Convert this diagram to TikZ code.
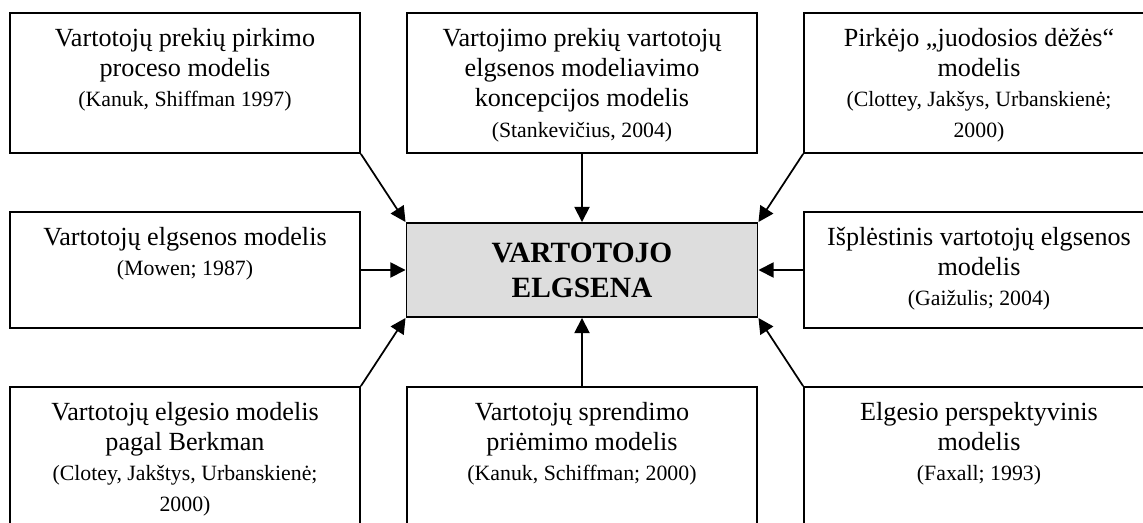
\documentclass[tikz,border=0pt]{standalone}
\usepackage{fontspec}
\setmainfont{Liberation Serif}
\usetikzlibrary{arrows.meta}
\definecolor{cgray}{RGB}{221,221,221}
\newcommand{\srcfont}{\fontsize{10}{11.5}\selectfont}

\tikzset{
  model/.style={draw,line width=0.9pt,minimum width=160.5pt,minimum height=64.2pt,inner sep=0pt},
  modeltxt/.style={anchor=north,align=center,inner sep=0pt,yshift=-7.4pt,font=\fontsize{12}{13.8}\selectfont},
  flow/.style={line width=0.8pt,-{Triangle[length=7pt,width=7pt]}}
}

\begin{document}
\begin{tikzpicture}[x=0.4587pt,y=-0.4587pt]
  \useasboundingbox (0,0) rectangle (1143,523);
  \clip (0,0) rectangle (1143,523);
  % centre
  \node[draw,fill=cgray,line width=0.9pt,minimum width=161pt,minimum height=43.1pt,
        align=center,font=\fontsize{13.5}{16}\selectfont\bfseries] (c) at (582,270) {VARTOTOJO\\ELGSENA};
  % boxes
  \node[model] (tl) at (185,83) {};
  \node[model] (tm) at (582,83) {};
  \node[model] (tr) at (979,83) {};
  \node[model,minimum height=53.2pt] (ml) at (185,270) {};
  \node[model,minimum height=53.2pt] (mr) at (979,270) {};
  \node[model] (bl) at (185,457) {};
  \node[model] (bm) at (582,457) {};
  \node[model] (br) at (979,457) {};
  % texts
  \node[modeltxt] (tl-t) at (tl.north) {Vartotojų prekių pirkimo\\proceso modelis\\{\srcfont (Kanuk, Shiffman 1997)}};
  \node[modeltxt] (tm-t) at (tm.north) {Vartojimo prekių vartotojų\\elgsenos modeliavimo\\koncepcijos modelis\\{\srcfont (Stankevičius, 2004)}};
  \node[modeltxt] (tr-t) at (tr.north) {Pirkėjo „juodosios dėžės“\\modelis\\{\srcfont (Clottey, Jakšys, Urbanskienė;}\\{\srcfont 2000)}};
  \node[modeltxt] (ml-t) at (ml.north) {Vartotojų elgsenos modelis\\{\srcfont (Mowen; 1987)}};
  \node[modeltxt] (mr-t) at (mr.north) {Išplėstinis vartotojų elgsenos\\modelis\\{\srcfont (Gaižulis; 2004)}};
  \node[modeltxt] (bl-t) at (bl.north) {Vartotojų elgesio modelis\\pagal Berkman\\{\srcfont (Clotey, Jakštys, Urbanskienė;}\\{\srcfont 2000)}};
  \node[modeltxt] (bm-t) at (bm.north) {Vartotojų sprendimo\\priėmimo modelis\\{\srcfont (Kanuk, Schiffman; 2000)}};
  \node[modeltxt] (br-t) at (br.north) {Elgesio perspektyvinis\\modelis\\{\srcfont (Faxall; 1993)}};
  % arrows
  \draw[flow] (tl.south east) -- (c.north west);
  \draw[flow] (tm.south) -- (c.north);
  \draw[flow] (tr.south west) -- (c.north east);
  \draw[flow] (ml.east) -- (c.west);
  \draw[flow] (mr.west) -- (c.east);
  \draw[flow] (bl.north east) -- (c.south west);
  \draw[flow] (bm.north) -- (c.south);
  \draw[flow] (br.north west) -- (c.south east);
\end{tikzpicture}
\end{document}
